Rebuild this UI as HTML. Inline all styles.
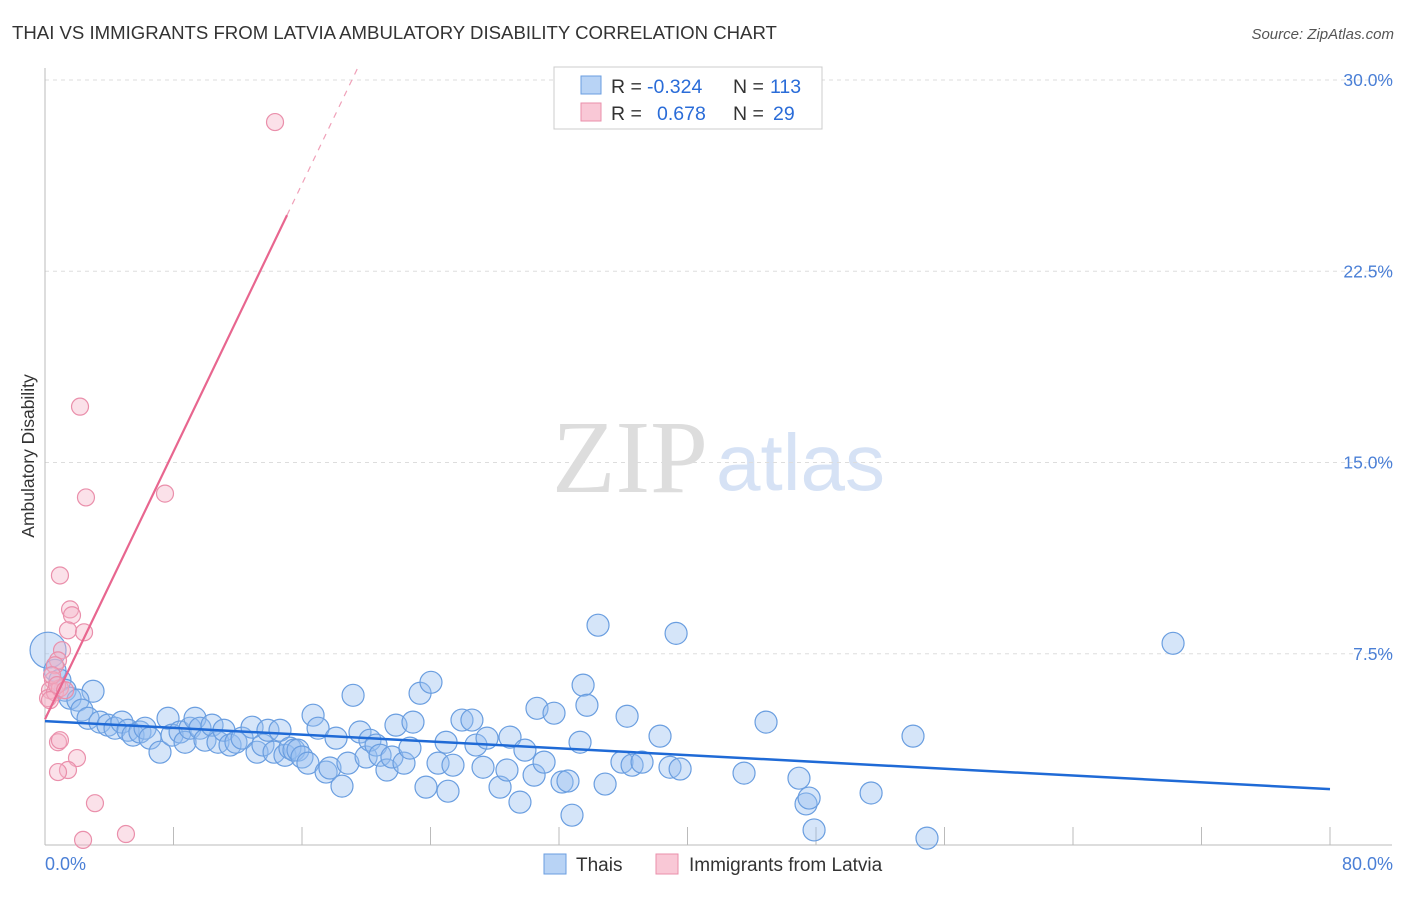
<!DOCTYPE html>
<html><head><meta charset="utf-8"><style>
body{margin:0;background:#fff;font-family:"Liberation Sans",sans-serif}
svg text{font-family:"Liberation Sans",sans-serif}
</style></head><body>
<svg id="c" width="1406" height="892">
<text x="12" y="39" font-size="18.6" fill="#333">THAI VS IMMIGRANTS FROM LATVIA AMBULATORY DISABILITY CORRELATION CHART</text>
<text x="1394" y="39" font-size="15" fill="#555" font-style="italic" text-anchor="end">Source: ZipAtlas.com</text>
<text x="34" y="456" font-size="17.5" fill="#333" text-anchor="middle" transform="rotate(-90 34 456)">Ambulatory Disability</text>
<g>
<text x="552" y="492" font-size="104" fill="#ddd" style="font-family:'Liberation Serif',serif">ZIP</text>
<text x="716" y="490" font-size="80" fill="#d6e2f5">atlas</text>
</g>
<g id="grid"></g><g id="axes"></g><g id="pts"></g><g id="lines"></g>
<g>
<rect x="554" y="67" width="268" height="62" fill="#fff" stroke="#ccc"/>
<rect x="581" y="76" width="20" height="18" fill="#b8d3f5" stroke="#6a9ee0"/>
<rect x="581" y="103" width="20" height="18" fill="#f9c8d6" stroke="#ea8fab"/>
<text x="611" y="93" font-size="19.5" fill="#333">R =</text>
<text x="647" y="93" font-size="19.5" fill="#2a6cd8">-0.324</text>
<text x="733" y="93" font-size="19.5" fill="#333">N =</text>
<text x="770" y="93" font-size="19.5" fill="#2a6cd8">113</text>
<text x="611" y="120" font-size="19.5" fill="#333">R =</text>
<text x="657" y="120" font-size="19.5" fill="#2a6cd8">0.678</text>
<text x="733" y="120" font-size="19.5" fill="#333">N =</text>
<text x="773" y="120" font-size="19.5" fill="#2a6cd8">29</text>
</g>
<g>
<rect x="544" y="854" width="22" height="20" fill="#b8d3f5" stroke="#6a9ee0"/>
<text x="576" y="871" font-size="19" fill="#333">Thais</text>
<rect x="656" y="854" width="22" height="20" fill="#f9c8d6" stroke="#ea8fab"/>
<text x="689" y="871" font-size="19" fill="#333">Immigrants from Latvia</text>
</g>
</svg>
<script>
const yTicks=[7.5,15,22.5,30];
const yTickLabels=["7.5%","15.0%","22.5%","30.0%"];
const xRange=[0,80];
const blueX=[0.19,0.62,0.93,1.25,2.99,1.56,2.05,2.30,2.68,3.42,3.92,4.36,4.79,5.17,5.48,5.91,6.23,6.54,7.16,7.66,7.91,8.41,8.72,9.03,9.34,9.65,9.96,10.40,10.77,11.14,11.52,11.89,12.27,12.89,13.20,13.57,13.88,14.26,14.63,14.94,15.25,15.50,15.75,16.00,16.37,16.69,17.00,17.50,17.74,18.12,18.49,18.86,19.18,19.61,19.99,20.23,20.61,20.86,21.29,21.60,21.85,22.35,22.72,22.91,23.35,23.72,24.03,24.47,24.97,25.09,25.40,25.96,26.58,26.83,27.27,27.52,28.33,28.76,28.95,29.57,29.88,30.45,30.63,31.07,31.69,32.19,32.56,32.81,33.31,33.50,33.74,34.43,34.87,35.92,36.24,36.55,37.17,38.29,38.91,39.29,39.54,43.52,44.89,46.94,47.38,47.57,47.88,51.43,54.04,54.91,70.23];
const blueY=[7.64,6.85,6.46,6.07,6.03,5.76,5.68,5.29,4.97,4.82,4.70,4.58,4.82,4.50,4.31,4.43,4.58,4.19,3.64,4.97,4.31,4.43,4.03,4.58,4.97,4.58,4.11,4.70,4.03,4.50,3.92,4.03,4.19,4.62,3.64,3.92,4.50,3.64,4.50,3.52,3.80,3.72,3.72,3.45,3.21,5.09,4.58,2.86,3.02,4.19,2.31,3.21,5.87,4.43,3.45,4.11,3.92,3.52,2.94,3.45,4.70,3.21,3.80,4.82,5.95,2.27,6.38,3.21,4.03,2.11,3.13,4.90,4.90,3.92,3.05,4.19,2.27,2.94,4.23,1.68,3.72,2.74,5.36,3.25,5.17,2.47,2.51,1.17,4.03,6.27,5.48,8.62,2.39,3.25,5.05,3.13,3.25,4.27,3.05,8.30,2.98,2.82,4.82,2.62,1.61,1.84,0.59,2.04,4.27,0.27,7.91];
const pinkX=[14.32,2.18,2.55,7.47,0.93,1.56,1.68,1.43,2.43,1.06,0.81,0.62,0.50,0.31,0.19,0.62,0.93,0.81,0.93,1.99,1.43,0.81,3.11,2.37,5.04,0.31,0.44,0.75,1.25];
const pinkY=[28.35,17.19,13.63,13.78,10.57,9.24,9.01,8.42,8.34,7.64,7.24,7.05,6.46,6.07,5.76,5.99,6.15,4.03,4.11,3.41,2.94,2.86,1.64,0.20,0.43,5.68,6.66,6.27,6.07];
const blueTrend=[4.86,2.19];
const pinkTrend=[4.93,1.312];
const X0=45,X1=1330,Y0=845,Y30=80;
const sx=v=>X0+(v-xRange[0])/(xRange[1]-xRange[0])*(X1-X0);
const sy=v=>Y0-(v/30)*(Y0-Y30);
const NS="http://www.w3.org/2000/svg";
function mk(tag,attrs,parent){const e=document.createElementNS(NS,tag);for(const k in attrs)e.setAttribute(k,attrs[k]);document.getElementById(parent).appendChild(e);return e;}
yTicks.forEach((t,i)=>{
 const l=mk('line',{x1:X0,x2:1392,y1:sy(t),y2:sy(t),stroke:'#ddd','stroke-dasharray':'4,4'},'grid');
 
 
 const tx=mk('text',{x:1393,y:sy(t)+6,'font-size':17.5,fill:'#4a7fd6','text-anchor':'end'},'grid');
 tx.textContent=yTickLabels[i];
 
 
});
let a=mk('line',{x1:X0,x2:X0,y1:68,y2:Y0,stroke:'#bbb'},'axes');


a=mk('line',{x1:X0,x2:1392,y1:Y0,y2:Y0,stroke:'#bbb'},'axes');


for(let i=1;i<=10;i++){const v=xRange[0]+i*(xRange[1]-xRange[0])/10;
 const t=mk('line',{x1:sx(v),x2:sx(v),y1:827,y2:Y0,stroke:'#bbb'},'axes');
 
 }
let xl=mk('text',{x:45,y:870,'font-size':18,fill:'#4a7fd6'},'axes');xl.textContent=xRange[0].toFixed(1)+'%';


xl=mk('text',{x:1393,y:870,'font-size':18,fill:'#4a7fd6','text-anchor':'end'},'axes');xl.textContent=xRange[1].toFixed(1)+'%';


blueX.forEach((x,i)=>{const c=mk('circle',{cx:sx(x),cy:sy(blueY[i]),r:i==0?18:(i<5?11:11),fill:'rgba(150,190,240,0.4)',stroke:'#6a9ee0','stroke-width':1.2},'pts');
 
 });
pinkX.forEach((x,i)=>{const c=mk('circle',{cx:sx(x),cy:sy(pinkY[i]),r:8.5,fill:'rgba(246,180,200,0.4)',stroke:'#ea8fab','stroke-width':1.2},'pts');
 
 });
let ln=mk('line',{x1:sx(0),y1:sy(blueTrend[0]),x2:sx(80),y2:sy(blueTrend[1]),stroke:'#1f6ad6','stroke-width':2.5},'lines');


const pEnd=15.07,pDash=(30.6-pinkTrend[0])/pinkTrend[1];
ln=mk('line',{x1:sx(0),y1:sy(pinkTrend[0]),x2:sx(pEnd),y2:sy(pinkTrend[0]+pinkTrend[1]*pEnd),stroke:'#e8668f','stroke-width':2.2},'lines');


ln=mk('line',{x1:sx(pEnd),y1:sy(pinkTrend[0]+pinkTrend[1]*pEnd),x2:sx(pDash),y2:sy(pinkTrend[0]+pinkTrend[1]*pDash),stroke:'#f0a0b8','stroke-width':1.2,'stroke-dasharray':'6,6'},'lines');


</script>
</body></html>
